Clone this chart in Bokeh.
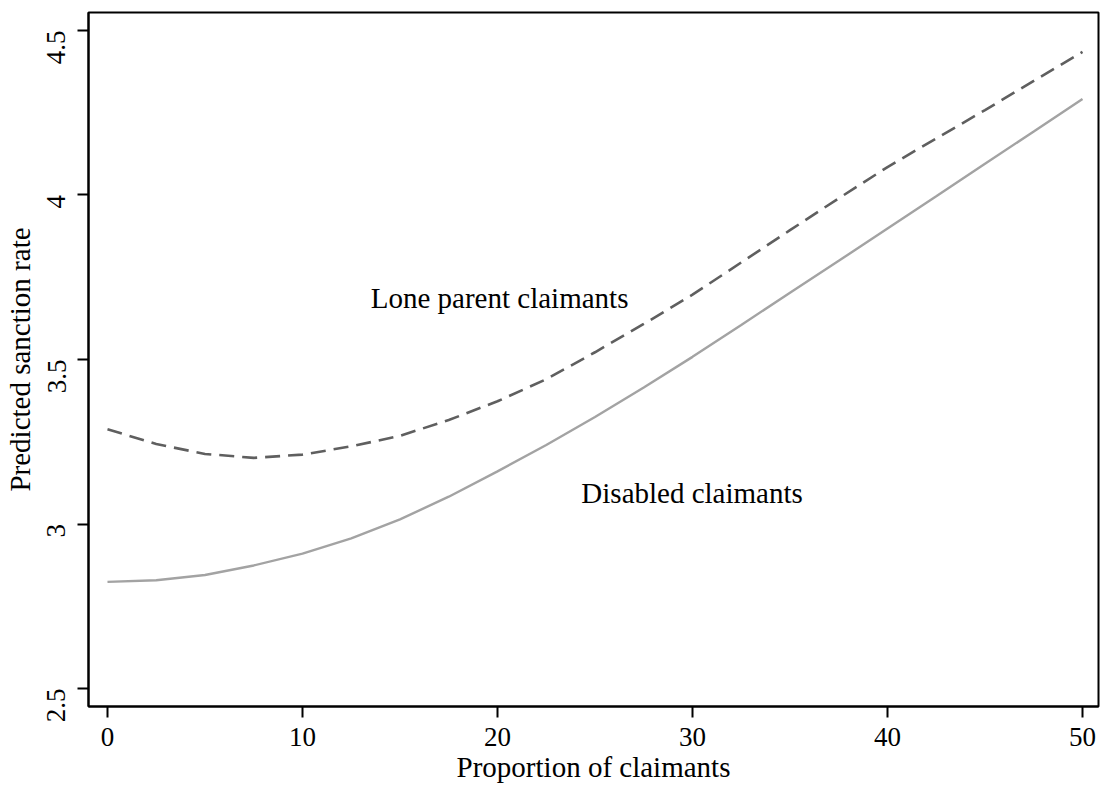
from bokeh.plotting import figure
from bokeh.models import Range1d, Label, FixedTicker
from bokeh.embed import file_html
from bokeh.resources import INLINE
import math

# Data
proportion = [0, 2.5, 5, 7.5, 10, 12.5, 15, 17.5, 20, 22.5, 25, 27.5, 30,
              32.5, 35, 37.5, 40, 42.5, 45, 47.5, 50]
lone_parent = [3.288, 3.243, 3.213, 3.201, 3.211, 3.236, 3.268, 3.316, 3.373,
               3.440, 3.522, 3.608, 3.697, 3.795, 3.893, 3.990, 4.085, 4.172,
               4.258, 4.347, 4.435]
disabled = [2.824, 2.829, 2.845, 2.874, 2.910, 2.956, 3.014, 3.083, 3.160,
            3.240, 3.325, 3.415, 3.508, 3.605, 3.703, 3.800, 3.898, 3.996,
            4.095, 4.193, 4.292]
x_ticks = [0, 10, 20, 30, 40, 50]
y_ticks = [2.5, 3, 3.5, 4, 4.5]
label_lone = "Lone parent claimants"
label_disabled = "Disabled claimants"

FONT = "Liberation Serif"

p = figure(width=1100, height=785, output_backend="svg", toolbar_location=None,
           x_range=Range1d(-0.974, 50.82), y_range=Range1d(2.4453, 4.5547),
           min_border_left=88, min_border_right=2, min_border_top=12,
           min_border_bottom=79)
p.background_fill_color = "white"
p.border_fill_color = "white"
p.outline_line_color = "black"
p.outline_line_width = 2
p.grid.visible = False

p.line(proportion, lone_parent, line_color="#5f5f5f", line_width=2.6,
       line_dash="15 8")
p.line(proportion, disabled, line_color="#a3a3a3", line_width=2.4)

p.add_layout(Label(x=13.5, y=3.688, text=label_lone, text_font=FONT,
                   text_font_size="29px", text_color="black",
                   text_baseline="middle", text_align="left"))
p.add_layout(Label(x=24.3, y=3.093, text=label_disabled, text_font=FONT,
                   text_font_size="29px", text_color="black",
                   text_baseline="middle", text_align="left"))

for ax in (p.xaxis[0], p.yaxis[0]):
    ax.axis_line_color = "black"
    ax.axis_line_width = 2
    ax.major_tick_line_color = "black"
    ax.major_tick_line_width = 2
    ax.major_tick_out = 11
    ax.major_tick_in = 0
    ax.minor_tick_line_color = None
    ax.major_label_text_font = FONT
    ax.major_label_text_font_size = "27px"
    ax.major_label_text_color = "black"
    ax.axis_label_text_font = FONT
    ax.axis_label_text_font_size = "29px"
    ax.axis_label_text_font_style = "normal"
    ax.axis_label_text_color = "black"

p.xaxis.ticker = FixedTicker(ticks=x_ticks)
p.yaxis.ticker = FixedTicker(ticks=y_ticks)
p.yaxis.major_label_overrides = {2.5: "2.5", 3: "3", 3.5: "3.5", 4: "4", 4.5: "4.5"}
p.yaxis.major_label_orientation = math.pi / 2
p.xaxis.axis_label = "Proportion of claimants"
p.yaxis.axis_label = "Predicted sanction rate"
p.xaxis.major_label_standoff = 10
p.xaxis.axis_label_standoff = 2
p.yaxis.major_label_standoff = 21
p.yaxis.axis_label_standoff = 0

open("out.html", "w").write(file_html(p, INLINE))
